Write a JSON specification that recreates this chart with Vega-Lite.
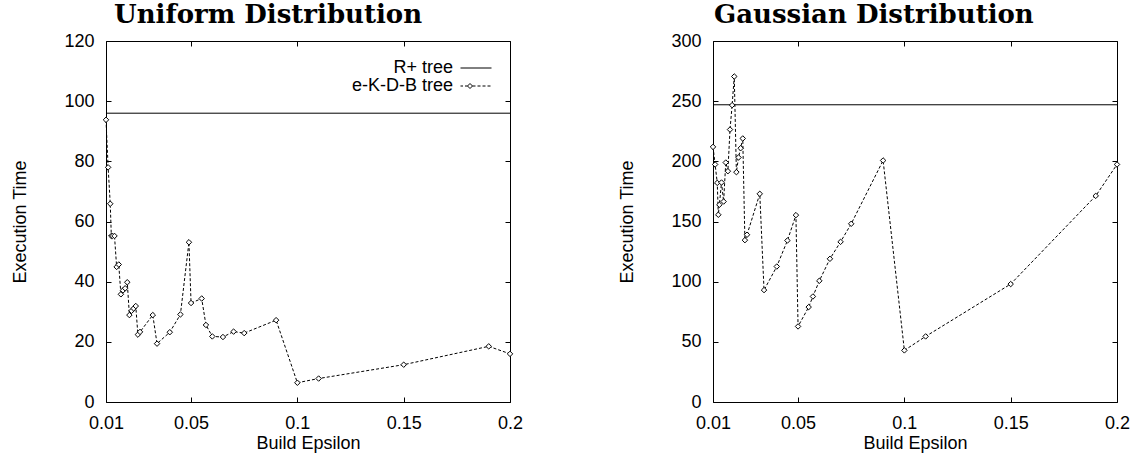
{
  "$schema": "https://vega.github.io/schema/vega-lite/v6.json",
  "background": "white",
  "padding": {"left": 11, "top": 1, "right": 2, "bottom": 0},
  "spacing": 94,
  "config": {
    "font": "Liberation Sans",
    "view": {"stroke": "black", "strokeWidth": 1},
    "axis": {
      "grid": false, "domain": false, "tickColor": "black", "tickSize": -5, "tickWidth": 1,
      "labelFont": "Liberation Sans", "labelFontSize": 18, "labelColor": "black",
      "labelFlush": false, "labelOverlap": false,
      "titleFont": "Liberation Sans", "titleFontSize": 18, "titleFontWeight": "normal", "titleColor": "black"
    },
    "title": {"font": "DejaVu Serif", "fontSize": 26, "fontWeight": "bold", "anchor": "start", "frame": "group", "baseline": "alphabetic", "offset": 4.4, "color": "black"}
  },
  "datasets": {
    "uniform": [
      {"eps": 0.01, "time": 93.8}, {"eps": 0.011, "time": 78.0}, {"eps": 0.012, "time": 65.9},
      {"eps": 0.0125, "time": 55.2}, {"eps": 0.013, "time": 55.2}, {"eps": 0.014, "time": 55.2},
      {"eps": 0.015, "time": 44.9}, {"eps": 0.016, "time": 45.7}, {"eps": 0.017, "time": 35.8},
      {"eps": 0.018, "time": 37.1}, {"eps": 0.019, "time": 37.8}, {"eps": 0.02, "time": 39.8},
      {"eps": 0.021, "time": 28.9}, {"eps": 0.022, "time": 30.3}, {"eps": 0.023, "time": 31.1},
      {"eps": 0.024, "time": 31.9}, {"eps": 0.025, "time": 22.4}, {"eps": 0.026, "time": 23.3},
      {"eps": 0.032, "time": 28.9}, {"eps": 0.034, "time": 19.4}, {"eps": 0.04, "time": 23.2},
      {"eps": 0.045, "time": 29.1}, {"eps": 0.049, "time": 53.1}, {"eps": 0.05, "time": 32.9},
      {"eps": 0.055, "time": 34.4}, {"eps": 0.057, "time": 25.6}, {"eps": 0.06, "time": 21.8},
      {"eps": 0.065, "time": 21.6}, {"eps": 0.07, "time": 23.4}, {"eps": 0.075, "time": 22.9},
      {"eps": 0.09, "time": 27.2}, {"eps": 0.1, "time": 6.4}, {"eps": 0.11, "time": 7.8},
      {"eps": 0.15, "time": 12.4}, {"eps": 0.19, "time": 18.5}, {"eps": 0.2, "time": 16.0}
    ],
    "uniform_rplus": [{"series": "R+ tree", "time": 96}],
    "gaussian": [
      {"eps": 0.01, "time": 212.0}, {"eps": 0.011, "time": 197.4}, {"eps": 0.012, "time": 182.1},
      {"eps": 0.0125, "time": 155.6}, {"eps": 0.013, "time": 163.9}, {"eps": 0.014, "time": 182.4},
      {"eps": 0.015, "time": 166.6}, {"eps": 0.016, "time": 199.0}, {"eps": 0.017, "time": 191.8},
      {"eps": 0.018, "time": 226.4}, {"eps": 0.019, "time": 246.7}, {"eps": 0.02, "time": 270.5},
      {"eps": 0.021, "time": 191.0}, {"eps": 0.022, "time": 203.2}, {"eps": 0.023, "time": 210.9},
      {"eps": 0.024, "time": 219.0}, {"eps": 0.025, "time": 134.5}, {"eps": 0.026, "time": 139.0},
      {"eps": 0.032, "time": 173.0}, {"eps": 0.034, "time": 93.0}, {"eps": 0.04, "time": 112.6},
      {"eps": 0.045, "time": 134.2}, {"eps": 0.049, "time": 155.3}, {"eps": 0.05, "time": 62.8},
      {"eps": 0.055, "time": 78.9}, {"eps": 0.057, "time": 87.7}, {"eps": 0.06, "time": 100.7},
      {"eps": 0.065, "time": 119.0}, {"eps": 0.07, "time": 133.1}, {"eps": 0.075, "time": 148.1},
      {"eps": 0.09, "time": 200.7}, {"eps": 0.1, "time": 42.9}, {"eps": 0.11, "time": 54.5},
      {"eps": 0.15, "time": 98.0}, {"eps": 0.19, "time": 171.3}, {"eps": 0.2, "time": 197.4}
    ],
    "gaussian_rplus": [{"series": "R+ tree", "time": 247}]
  },
  "hconcat": [
    {
      "title": {"text": "Uniform Distribution", "dx": 8},
      "width": 404, "height": 361,
      "resolve": {"axis": {"x": "independent", "y": "independent"}},
      "layer": [
        {
          "data": {"name": "uniform_rplus"},
          "mark": {"type": "rule", "strokeWidth": 1},
          "encoding": {
            "y": {"field": "time", "type": "quantitative", "scale": {"domain": [0, 120], "nice": false},
                  "axis": {"orient": "left", "values": [0, 20, 40, 60, 80, 100, 120], "labelPadding": 17, "title": "Execution Time", "titlePadding": 34}},
            "color": {"field": "series", "type": "nominal",
              "scale": {"domain": ["R+ tree", "e-K-D-B tree"], "range": ["black", "black"]},
              "legend": {
                "title": null, "orient": "none", "legendX": 361, "legendY": 18,
                "labelAlign": "right", "labelOffset": -32, "symbolSize": 100,
                "labelFont": "Liberation Sans", "labelFontSize": 18, "labelColor": "black", "labelLimit": 300,
                "padding": 0, "rowPadding": -2,
                "encode": {"symbols": {"update": {
                  "shape": {"signal": "datum.value === 'R+ tree' ? 'M-3.1,0H3.1' : 'M-3.1,0H-2.6M-2.2,0H-1.7M-1.7,0L-1.2,-0.5L-0.7,0L-1.2,0.5ZM-0.7,0H-0.1M0.3,0H0.9M1.3,0H1.9M2.3,0H2.9'"},
                  "fill": {"value": "white"}, "stroke": {"value": "black"}, "strokeWidth": {"value": 1}, "strokeDash": {"value": []}
                }}}
              }
            }
          }
        },
        {
          "data": {"name": "uniform"},
          "mark": {"type": "line", "strokeDash": [3, 2], "strokeWidth": 1},
          "encoding": {
            "x": {"field": "eps", "type": "quantitative", "scale": {"domain": [0.01, 0.2], "nice": false, "zero": false},
                  "axis": {"orient": "bottom", "values": [0.01, 0.05, 0.1, 0.15, 0.2], "format": "~g", "labelPadding": 17, "title": "Build Epsilon", "titlePadding": 2}},
            "y": {"field": "time", "type": "quantitative",
                  "axis": {"orient": "right", "values": [0, 20, 40, 60, 80, 100, 120], "labels": false, "title": null}},
            "color": {"datum": "e-K-D-B tree"}
          }
        },
        {
          "data": {"name": "uniform"},
          "mark": {"type": "point", "shape": "diamond", "size": 30, "filled": true, "fill": "white", "stroke": "black", "strokeWidth": 1, "opacity": 1},
          "encoding": {
            "x": {"field": "eps", "type": "quantitative",
                  "axis": {"orient": "top", "values": [0.01, 0.05, 0.1, 0.15, 0.2], "labels": false, "title": null}},
            "y": {"field": "time", "type": "quantitative", "axis": null}
          }
        }
      ]
    },
    {
      "title": {"text": "Gaussian Distribution", "dx": 1},
      "width": 404, "height": 361,
      "resolve": {"axis": {"x": "independent", "y": "independent"}},
      "layer": [
        {
          "data": {"name": "gaussian_rplus"},
          "mark": {"type": "rule", "strokeWidth": 1},
          "encoding": {
            "y": {"field": "time", "type": "quantitative", "scale": {"domain": [0, 300], "nice": false},
                  "axis": {"orient": "left", "values": [0, 50, 100, 150, 200, 250, 300], "labelPadding": 17, "title": "Execution Time", "titlePadding": 34}},
            "color": {"field": "series", "type": "nominal",
              "scale": {"domain": ["R+ tree", "e-K-D-B tree"], "range": ["black", "black"]},
              "legend": {
                "title": null, "orient": "none", "legendX": 361, "legendY": 18,
                "labelAlign": "right", "labelOffset": -32, "symbolSize": 100,
                "labelFont": "Liberation Sans", "labelFontSize": 18, "labelColor": "black", "labelLimit": 300,
                "padding": 0, "rowPadding": -2,
                "encode": {"symbols": {"update": {
                  "shape": {"signal": "datum.value === 'R+ tree' ? 'M-3.1,0H3.1' : 'M-3.1,0H-2.6M-2.2,0H-1.7M-1.7,0L-1.2,-0.5L-0.7,0L-1.2,0.5ZM-0.7,0H-0.1M0.3,0H0.9M1.3,0H1.9M2.3,0H2.9'"},
                  "fill": {"value": "white"}, "stroke": {"value": "black"}, "strokeWidth": {"value": 1}, "strokeDash": {"value": []}
                }}}
              }
            }
          }
        },
        {
          "data": {"name": "gaussian"},
          "mark": {"type": "line", "strokeDash": [3, 2], "strokeWidth": 1},
          "encoding": {
            "x": {"field": "eps", "type": "quantitative", "scale": {"domain": [0.01, 0.2], "nice": false, "zero": false},
                  "axis": {"orient": "bottom", "values": [0.01, 0.05, 0.1, 0.15, 0.2], "format": "~g", "labelPadding": 17, "title": "Build Epsilon", "titlePadding": 2}},
            "y": {"field": "time", "type": "quantitative",
                  "axis": {"orient": "right", "values": [0, 50, 100, 150, 200, 250, 300], "labels": false, "title": null}},
            "color": {"datum": "e-K-D-B tree"}
          }
        },
        {
          "data": {"name": "gaussian"},
          "mark": {"type": "point", "shape": "diamond", "size": 30, "filled": true, "fill": "white", "stroke": "black", "strokeWidth": 1, "opacity": 1},
          "encoding": {
            "x": {"field": "eps", "type": "quantitative",
                  "axis": {"orient": "top", "values": [0.01, 0.05, 0.1, 0.15, 0.2], "labels": false, "title": null}},
            "y": {"field": "time", "type": "quantitative", "axis": null}
          }
        }
      ]
    }
  ]
}
